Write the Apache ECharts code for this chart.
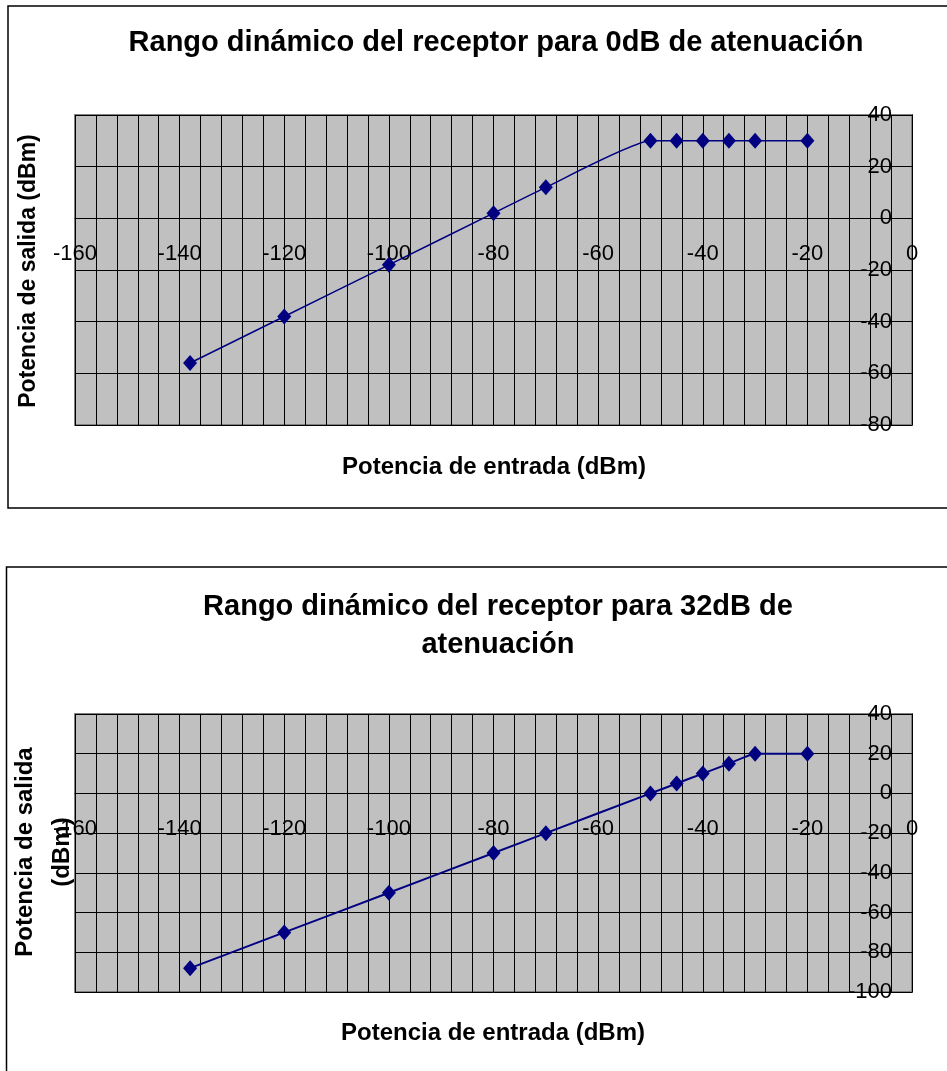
<!DOCTYPE html>
<html>
<head>
<meta charset="utf-8">
<script src="https://cdn.jsdelivr.net/npm/echarts@6/dist/echarts.min.js"></script>
<style>
html,body{margin:0;padding:0;background:#fff;}
#c{width:947px;height:1071px;}
</style>
</head>
<body>
<div id="c"></div>
<script>
// ---- data ----
const inputPower = [-138, -120, -100, -80, -70, -50, -45, -40, -35, -30, -20];
const output0dB = [-56, -38, -18, 2, 12, 30, 30, 30, 30, 30, 30];
const output32dB = [-88, -70, -50, -30, -20, 0, 5, 10, 15, 20, 20];
const xTickValues = [-160, -140, -120, -100, -80, -60, -40, -20, 0];
const yTickValues0 = [-80, -60, -40, -20, 0, 20, 40];
const yTickValues32 = [-100, -80, -60, -40, -20, 0, 20, 40];
const title0 = 'Rango dinámico del receptor para 0dB de atenuación';
const title32 = 'Rango dinámico del receptor para 32dB de\natenuación';
const xTitle = 'Potencia de entrada (dBm)';
const yTitle0 = 'Potencia de salida (dBm)';
const yTitle32 = 'Potencia de salida\n(dBm)';

// ---- layout ----
const FONT = '"Liberation Sans", Arial, Helvetica, sans-serif';
const grids = [
  { left: 75, top: 115, width: 837, height: 310 },
  { left: 75, top: 714, width: 837, height: 278 }
];
const chart = echarts.init(document.getElementById('c'));

// x axis crosses the y axis at 0: shift it up from the grid bottom by the share of the y range below 0
function zeroOffset(gridH, yTicks) {
  const lo = yTicks[0], hi = yTicks[yTicks.length - 1];
  return -gridH * (0 - lo) / (hi - lo);
}

function xAxisFor(i, ticks, yTicks) {
  return {
    gridIndex: i, type: 'value', position: 'bottom',
    offset: zeroOffset(grids[i].height, yTicks),
    min: ticks[0], max: ticks[ticks.length - 1], interval: ticks[1] - ticks[0],
    axisLine: { show: true, onZero: false, lineStyle: { color: '#000', width: 1 } },
    axisTick: { show: true, length: 7, lineStyle: { color: '#000', width: 1 } },
    axisLabel: { show: true, margin: 25, fontSize: 22, color: '#000', fontFamily: FONT },
    splitLine: { show: true, lineStyle: { color: '#000', width: 1 } },
    minorTick: { show: false, splitNumber: 5 },
    minorSplitLine: { show: true, lineStyle: { color: '#000', width: 1 } }
  };
}
function yAxisFor(i, ticks) {
  return {
    gridIndex: i, type: 'value', position: 'right',
    min: ticks[0], max: ticks[ticks.length - 1], interval: ticks[1] - ticks[0],
    axisLine: { show: true, onZero: false, lineStyle: { color: '#000', width: 1 } },
    axisTick: { show: true, inside: true, length: 7, lineStyle: { color: '#000', width: 1 } },
    axisLabel: { show: true, inside: true, margin: 20, fontSize: 22, color: '#000', fontFamily: FONT },
    splitLine: { show: true, lineStyle: { color: '#000', width: 1 } }
  };
}
function seriesFor(i, ys, lw) {
  return {
    type: 'line', xAxisIndex: i, yAxisIndex: i,
    data: inputPower.map((x, k) => [x, ys[k]]),
    symbol: 'diamond', symbolSize: [14, 16],
    itemStyle: { color: '#000080' },
    lineStyle: { color: '#000080', width: lw },
    smooth: 0.15,
    z: 5,
    animation: false
  };
}
function txt(text, x, y, size, rot, lh) {
  return {
    type: 'text', x: x, y: y, rotation: rot || 0, z: 100,
    style: {
      text: text, fill: '#000', textAlign: 'center', textVerticalAlign: 'middle',
      font: 'bold ' + size + 'px ' + FONT, lineHeight: lh || size * 1.2
    }
  };
}

chart.setOption({
  animation: false,
  grid: grids.map(g => Object.assign({}, g, {
    show: true, backgroundColor: '#C0C0C0', borderColor: '#808080', borderWidth: 2
  })),
  xAxis: [xAxisFor(0, xTickValues, yTickValues0), xAxisFor(1, xTickValues, yTickValues32)],
  yAxis: [yAxisFor(0, yTickValues0), yAxisFor(1, yTickValues32)],
  series: [seriesFor(0, output0dB, 1.5), seriesFor(1, output32dB, 2)],
  graphic: [
    { type: 'rect', shape: { x: 8, y: 6, width: 1000, height: 502 }, style: { fill: null, stroke: '#000', lineWidth: 1.5 } },
    { type: 'rect', shape: { x: 6.5, y: 567, width: 1000, height: 600 }, style: { fill: null, stroke: '#000', lineWidth: 1.5 } },
    txt(title0, 496, 43, 29),
    txt(title32, 498, 626, 29, 0, 38),
    txt(xTitle, 494, 467, 24),
    txt(xTitle, 493, 1033, 24),
    txt(yTitle0, 29, 271, 23, Math.PI / 2),
    txt(yTitle32, 44, 852, 24, Math.PI / 2, 37)
  ]
});
</script>
</body>
</html>
